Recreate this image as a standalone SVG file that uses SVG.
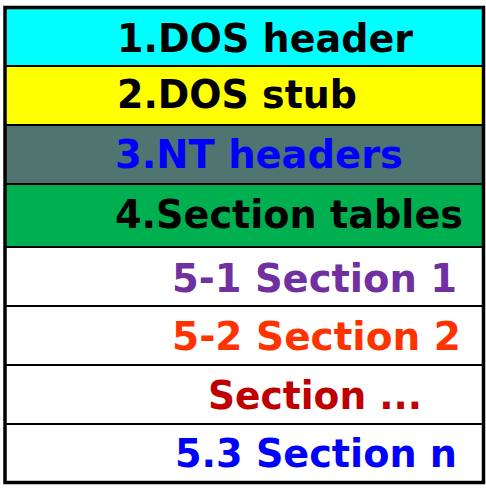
<svg xmlns="http://www.w3.org/2000/svg" width="486" height="497" viewBox="0 0 486 497">
<style>
.row{stroke:#000;stroke-width:2}
.t{font-family:"DejaVu Sans",Verdana,sans-serif;font-weight:bold;font-size:39px}
</style>
<rect width="486" height="497" fill="#fff"/>
<g id="dos-header"><rect class="row" x="5" y="7" width="479" height="59" fill="#00FFFF"/><text class="t" x="117" y="52" fill="#000" textLength="296" lengthAdjust="spacingAndGlyphs">1.DOS header</text></g>
<g id="dos-stub"><rect class="row" x="5" y="66" width="479" height="59" fill="#FFFF00"/><text class="t" x="117" y="108" fill="#000" textLength="240" lengthAdjust="spacingAndGlyphs">2.DOS stub</text></g>
<g id="nt-headers"><rect class="row" x="5" y="125" width="479" height="59" fill="#507470"/><text class="t" x="115" y="168" fill="#0000FF" textLength="288" lengthAdjust="spacingAndGlyphs">3.NT headers</text></g>
<g id="section-tables"><rect class="row" x="5" y="184" width="479" height="63" fill="#00B050"/><text class="t" x="115" y="228" fill="#000" textLength="348" lengthAdjust="spacingAndGlyphs">4.Section tables</text></g>
<g id="section-1"><rect class="row" x="5" y="247" width="479" height="59" fill="#fff"/><text class="t" x="172" y="292" fill="#7030A0" textLength="285" lengthAdjust="spacingAndGlyphs">5-1 Section 1</text></g>
<g id="section-2"><rect class="row" x="5" y="306" width="479" height="59" fill="#fff"/><text class="t" x="172" y="350" fill="#FF3300" textLength="289" lengthAdjust="spacingAndGlyphs">5-2 Section 2</text></g>
<g id="section-dots"><rect class="row" x="5" y="365" width="479" height="59" fill="#fff"/><text class="t" x="208" y="409" fill="#C00000" textLength="214" lengthAdjust="spacingAndGlyphs">Section ...</text></g>
<g id="section-n"><rect class="row" x="5" y="424" width="479" height="58" fill="#fff"/><text class="t" x="175" y="467" fill="#0000FF" textLength="282" lengthAdjust="spacingAndGlyphs">5.3 Section n</text></g>
<g id="connectors"></g>
<rect x="5" y="7.5" width="478.5" height="475" fill="none" stroke="#000" stroke-width="3.5"/>
</svg>
